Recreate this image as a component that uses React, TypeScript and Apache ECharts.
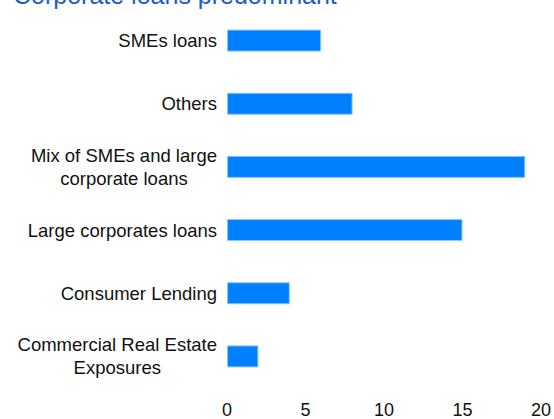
import React, { useEffect, useRef } from "react";
import * as echarts from "echarts";

const categories = [
  "Commercial Real Estate\nExposures",
  "Consumer Lending",
  "Large corporates loans",
  "Mix of SMEs and large\ncorporate loans",
  "Others",
  "SMEs loans",
];
const values = [2, 4, 15, 19, 8, 6];
const titleText = "Corporate loans predominant";

const FONT = "Liberation Sans, Arial, sans-serif";

export default function App() {
  const ref = useRef<HTMLDivElement>(null);
  useEffect(() => {
    if (!ref.current) return;
    const chart = echarts.init(ref.current, undefined, { renderer: "svg" });
    chart.setOption({
      animation: false,
      title: {
        text: titleText,
        left: 8,
        top: -23,
        textStyle: {
          color: "#1f5bc6",
          fontSize: 25,
          fontWeight: "normal",
          fontFamily: FONT,
        },
      },
      grid: { left: 227, right: 12, top: 9, bottom: 30, containLabel: false },
      xAxis: {
        type: "value",
        min: 0,
        max: 20,
        interval: 5,
        axisLine: { show: false },
        axisTick: { show: false },
        splitLine: { show: false },
        axisLabel: {
          color: "#111",
          fontSize: 18,
          margin: 13,
          fontFamily: FONT,
        },
      },
      yAxis: {
        type: "category",
        data: categories,
        axisLine: { show: false },
        axisTick: { show: false },
        axisLabel: {
          color: "#111",
          fontSize: 18,
          margin: 10,
          align: "right",
          fontFamily: FONT,
          formatter: (v: string) =>
            v
              .split("\n")
              .map((l) => "{c|" + l + "}")
              .join("\n"),
          rich: {
            c: {
              color: "#111",
              fontSize: 18.5,
              lineHeight: 23,
              align: "center",
              fontFamily: FONT,
            },
          },
        },
      },
      series: [
        {
          type: "bar",
          data: values,
          barWidth: 22,
          itemStyle: { color: "#0080ff", borderColor: "#8cc4ff", borderWidth: 1 },
        },
      ],
    });
    return () => chart.dispose();
  }, []);
  return (
    <div
      ref={ref}
      style={{ position: "fixed", left: 0, top: 0, width: 554, height: 419, background: "#fff" }}
    />
  );
}
